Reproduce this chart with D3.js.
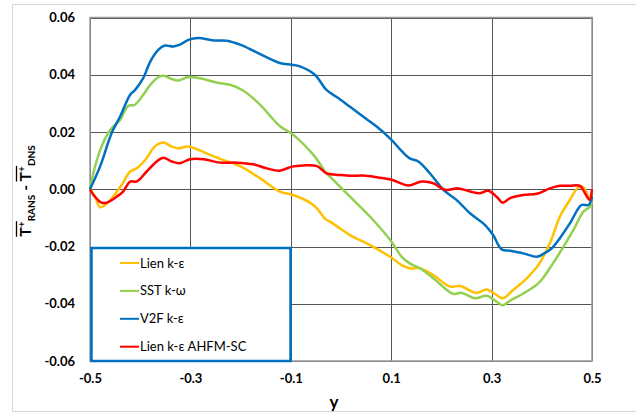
<!DOCTYPE html>
<html>
<head>
<meta charset="utf-8">
<script src="https://cdn.jsdelivr.net/npm/d3@7"></script>
<style>
  body { margin: 0; background: #fff; }
  svg { font-family: Lato, "Liberation Sans", sans-serif; }
</style>
</head>
<body>
<svg id="chart" width="636" height="415"></svg>
<script>
// values
var xTicks = [-0.5, -0.3, -0.1, 0.1, 0.3, 0.5]
var yTicks = [-0.06, -0.04, -0.02, 0, 0.02, 0.04, 0.06]
var seriesNames = ["Lien k-\u03b5", "SST k-\u03c9", "V2F k-\u03b5", "Lien k-\u03b5 AHFM-SC"]
var seriesColors = ["#ffc000", "#92d050", "#0070c0", "#ff0000"]

var lien = [[-0.5,0],[-0.490,-0.0026],[-0.480,-0.0063],[-0.470,-0.0055],[-0.454,-0.0026],[-0.437,0.0015],[-0.420,0.0062],[-0.407,0.0073],[-0.390,0.0102],[-0.371,0.0149],[-0.354,0.0163],[-0.337,0.0149],[-0.324,0.0143],[-0.307,0.0149],[-0.287,0.014],[-0.261,0.012],[-0.234,0.0102],[-0.201,0.0081],[-0.161,0.0038],[-0.122,-0.0008],[-0.095,-0.002],[-0.055,-0.0055],[-0.029,-0.0107],[-0.022,-0.0113],[0.018,-0.016],[0.058,-0.0195],[0.098,-0.0236],[0.121,-0.0265],[0.137,-0.0276],[0.157,-0.0276],[0.184,-0.03],[0.217,-0.034],[0.237,-0.0338],[0.270,-0.0362],[0.290,-0.035],[0.307,-0.0366],[0.322,-0.0381],[0.343,-0.0352],[0.370,-0.0311],[0.393,-0.0265],[0.416,-0.0189],[0.436,-0.0096],[0.456,-0.0037],[0.473,0.0007],[0.483,0.0007],[0.493,-0.0026],[0.5,-0.004]]

var sst = [[-0.5,0],[-0.490,0.0079],[-0.477,0.0149],[-0.464,0.0196],[-0.454,0.0219],[-0.440,0.0242],[-0.424,0.0291],[-0.411,0.0295],[-0.394,0.033],[-0.377,0.0371],[-0.361,0.0394],[-0.351,0.0396],[-0.337,0.0385],[-0.324,0.038],[-0.304,0.0392],[-0.281,0.0388],[-0.248,0.0373],[-0.221,0.0365],[-0.195,0.0345],[-0.161,0.0295],[-0.122,0.0221],[-0.095,0.019],[-0.055,0.012],[-0.029,0.0056],[-0.022,0.0044],[0.018,-0.0026],[0.058,-0.0096],[0.098,-0.0177],[0.121,-0.0236],[0.137,-0.0259],[0.157,-0.0276],[0.184,-0.0311],[0.211,-0.0352],[0.224,-0.0366],[0.240,-0.0362],[0.267,-0.0381],[0.290,-0.0372],[0.310,-0.0393],[0.322,-0.0405],[0.339,-0.0387],[0.363,-0.0364],[0.393,-0.0329],[0.420,-0.0265],[0.443,-0.0201],[0.463,-0.0142],[0.483,-0.0078],[0.496,-0.0061],[0.5,-0.0043]]

var v2f = [[-0.5,0],[-0.480,0.0079],[-0.457,0.0196],[-0.440,0.0254],[-0.420,0.033],[-0.41,0.0347],[-0.394,0.0388],[-0.380,0.0446],[-0.364,0.0487],[-0.351,0.0502],[-0.334,0.0499],[-0.321,0.0505],[-0.304,0.0522],[-0.284,0.0528],[-0.254,0.0520],[-0.228,0.0519],[-0.201,0.0505],[-0.168,0.0478],[-0.122,0.0441],[-0.098,0.0435],[-0.082,0.0429],[-0.052,0.040],[-0.029,0.0347],[-0.005,0.0318],[0.018,0.0288],[0.044,0.0254],[0.071,0.0219],[0.101,0.0172],[0.121,0.0133],[0.137,0.0108],[0.154,0.0097],[0.177,0.0056],[0.204,-0.0002],[0.230,-0.0037],[0.257,-0.0084],[0.287,-0.0125],[0.303,-0.016],[0.320,-0.021],[0.337,-0.0215],[0.363,-0.0224],[0.390,-0.0236],[0.403,-0.0226],[0.420,-0.0206],[0.436,-0.0171],[0.456,-0.0119],[0.479,-0.0055],[0.493,-0.0055],[0.5,-0.0026]]

var ahfm = [[-0.5,0],[-0.493,-0.002],[-0.477,-0.0047],[-0.467,-0.0047],[-0.447,-0.0026],[-0.434,-0.0008],[-0.420,0.0027],[-0.407,0.0027],[-0.387,0.0062],[-0.367,0.0097],[-0.354,0.011],[-0.337,0.0097],[-0.321,0.0091],[-0.301,0.0105],[-0.274,0.0105],[-0.241,0.0093],[-0.208,0.0093],[-0.175,0.0087],[-0.148,0.0073],[-0.122,0.0065],[-0.098,0.0079],[-0.075,0.0083],[-0.048,0.0081],[-0.029,0.0056],[-0.002,0.005],[0.018,0.0047],[0.044,0.0048],[0.071,0.0042],[0.101,0.0033],[0.134,0.0013],[0.161,0.0027],[0.184,0.0021],[0.207,-0.0002],[0.234,0.0003],[0.257,-0.0008],[0.277,-0.0014],[0.293,-0.0005],[0.310,-0.0026],[0.322,-0.0047],[0.337,-0.0031],[0.363,-0.002],[0.390,-0.0016],[0.416,0.0003],[0.436,0.0012],[0.456,0.0012],[0.476,0.0012],[0.486,-0.0014],[0.495,-0.0037],[0.5,0]]

var allSeries = [lien, sst, v2f, ahfm]

var svg = d3.select("#chart")
var plotLeft = 90, plotRight = 592, plotTop = 17.5, plotBottom = 361

var locale = d3.formatLocale({decimal: ".", thousands: ",", grouping: [3], currency: ["", ""], minus: "-"})

var scaleX = d3.scaleLinear().domain([-0.5, 0.5]).range([plotLeft, plotRight])
var scaleY = d3.scaleLinear().domain([-0.06, 0.06]).range([plotBottom, plotTop])

// outer chart frame
svg.append("rect")
    .attr("x", 12.5).attr("y", 4.5).attr("width", 640).attr("height", 407)
    .attr("fill", "#fff").attr("stroke", "#d9d9d9")

// grid
var grid = svg.append("g")
grid.selectAll(".gx").data(xTicks).enter().append("line")
    .attr("x1", d => Math.round(scaleX(d)) + 0.5).attr("x2", d => Math.round(scaleX(d)) + 0.5)
    .attr("y1", plotTop).attr("y2", plotBottom)
    .attr("stroke", "#555").attr("stroke-width", 1)
grid.selectAll(".gy").data(yTicks).enter().append("line")
    .attr("y1", d => Math.round(scaleY(d)) + 0.5).attr("y2", d => Math.round(scaleY(d)) + 0.5)
    .attr("x1", plotLeft).attr("x2", plotRight)
    .attr("stroke", "#555").attr("stroke-width", 1)
svg.append("rect")
    .attr("x", plotLeft).attr("y", plotTop).attr("width", plotRight - plotLeft).attr("height", plotBottom - plotTop)
    .attr("fill", "none").attr("stroke", "#9a9a9a").attr("stroke-width", 1.5)

// axes (labels only)
var axisX = d3.axisBottom(scaleX).tickValues(xTicks).tickFormat(locale.format(".1f")).tickSize(0).tickPadding(13)
var axisY = d3.axisLeft(scaleY).tickValues(yTicks).tickFormat(locale.format(".2f")).tickSize(0).tickPadding(15)
var gx = svg.append("g").attr("transform", "translate(0," + plotBottom + ")").call(axisX)
var gy = svg.append("g").attr("transform", "translate(" + plotLeft + ",0)").call(axisY)
;[gx, gy].forEach(function(g) {
    g.select(".domain").remove()
    g.selectAll("text").attr("font-family", "Lato, sans-serif").attr("font-size", 13)
        .attr("font-weight", "bold").attr("fill", "#000")
})

// lines
var line = d3.line().x(d => scaleX(d[0])).y(d => scaleY(d[1])).curve(d3.curveCatmullRom)
svg.append("g").selectAll("path").data(allSeries).enter().append("path")
    .attr("d", line)
    .attr("fill", "none")
    .attr("stroke", (d, i) => seriesColors[i])
    .attr("stroke-width", 2.5)
    .attr("stroke-linejoin", "round")

// legend
var legend = svg.append("g")
legend.append("rect")
    .attr("x", 91.5).attr("y", 248).attr("width", 199).attr("height", 113)
    .attr("fill", "#fff").attr("stroke", "#0070c0").attr("stroke-width", 2.5)
var items = legend.selectAll(".item").data(seriesNames).enter().append("g")
    .attr("transform", (d, i) => "translate(120," + (263 + i * 27.9) + ")")
items.append("line").attr("x1", 0).attr("x2", 19).attr("y1", 0).attr("y2", 0)
    .attr("stroke", (d, i) => seriesColors[i]).attr("stroke-width", 2)
items.append("text").attr("x", 20).attr("y", 0).attr("dy", "0.35em")
    .attr("font-size", 13).attr("fill", "#000").text(d => d)

// x title
svg.append("text").attr("x", 334).attr("y", 408)
    .attr("text-anchor", "middle").attr("font-size", 17).attr("font-weight", "bold").text("y")

// y title with overlines
var yt = svg.append("g").attr("transform", "translate(31,191) rotate(-90)")
var title = yt.append("text").attr("text-anchor", "middle").attr("font-size", 16).attr("font-weight", "bold")
var parts = [
    {t: "T", size: 16, dy: 0},
    {t: "+", size: 10, dy: -6},
    {t: "RANS", size: 10, dy: 10},
    {t: " - ", size: 16, dy: -4},
    {t: "T", size: 16, dy: 0},
    {t: "+", size: 10, dy: -6},
    {t: "DNS", size: 10, dy: 10}
]
var spans = parts.map(function(p) {
    return title.append("tspan").attr("font-size", p.size).attr("dy", p.dy).text(p.t)
})
// overline over each T+ pair
;[[0, 1], [4, 5]].forEach(function(pair) {
    var a = spans[pair[0]].node().getBBox()
    var b = spans[pair[1]].node().getBBox()
    yt.append("line")
        .attr("x1", a.x).attr("x2", b.x + b.width)
        .attr("y1", a.y + 1.5).attr("y2", a.y + 1.5)
        .attr("stroke", "#000").attr("stroke-width", 1.3)
})
</script>
</body>
</html>
